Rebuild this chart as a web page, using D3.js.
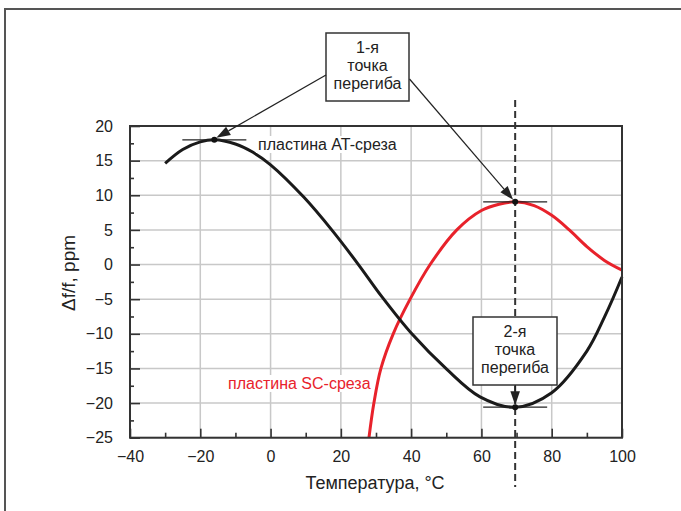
<!DOCTYPE html>
<html><head><meta charset="utf-8">
<script src="https://cdn.jsdelivr.net/npm/d3@7"></script>
<style>body{margin:0;background:#fff}svg{display:block}text{font-family:"Liberation Sans",Arial,sans-serif}</style>
</head><body>
<svg id="c" width="681" height="511"></svg>
<script>
// Data
const atCurve = [[-30,14.6],[-25,16.6],[-20,17.7],[-16,18.0],[-10,17.4],[-5,16.2],[0,14.4],[9.5,9.7],[17.4,5],[25,0],[31.6,-4.6],[40.2,-10],[50.1,-15.1],[59.6,-19.1],[69.6,-20.6],[80,-18.5],[90,-12.5],[95,-7.6],[100,-1.8]];
const scCurve = [[28,-25],[29.4,-20],[31.4,-15],[34.9,-10],[39.7,-5],[45.4,0],[53,5],[60,7.8],[65,8.7],[69.6,9.05],[75,8.5],[80,7.1],[85,5.0],[90,2.6],[95,0.6],[100,-0.8]];
const xTicks = [-40,-20,0,20,40,60,80,100];
const xMinor = [-30,-10,10,30,50,70,90];
const yTicks = [20,15,10,5,0,-5,-10,-15,-20,-25];
const yMinor = [17.5,12.5,7.5,2.5,-2.5,-7.5,-12.5,-17.5,-22.5];
const atPeak = [-16,18.0];
const scPeak = [69.6,9.05];
const atMin = [69.6,-20.6];
const labels = {x:"Температура, °C", y:"Δf/f, ppm", at:"пластина AT-среза", sc:"пластина SC-среза",
  box1:["1-я","точка","перегиба"], box2:["2-я","точка","перегиба"]};

const svg = d3.select("#c");
const x = d3.scaleLinear().domain([-40,100]).range([130,622]);
const y = d3.scaleLinear().domain([-25,20]).range([437.7,126]);
const fmt = d3.format("");
const axisCol = "#333";

svg.append("rect").attr("width",681).attr("height",511).attr("fill","#fff");
svg.append("path").attr("d","M5,511V9H681").attr("fill","none").attr("stroke","#555").attr("stroke-width",2);

// grid
const g = svg.append("g");
g.selectAll(".vg").data(xTicks).join("line").attr("x1",d=>x(d)).attr("x2",d=>x(d)).attr("y1",y(-25)).attr("y2",y(20)).attr("stroke","#c8c8c8").attr("stroke-width",1.5);
g.selectAll(".hg").data(yTicks).join("line").attr("y1",d=>y(d)).attr("y2",d=>y(d)).attr("x1",x(-40)).attr("x2",x(100)).attr("stroke","#c8c8c8").attr("stroke-width",1.5);

// curves
const line = d3.line().x(d=>x(d[0])).y(d=>y(d[1])).curve(d3.curveCatmullRom.alpha(0.5));
svg.append("path").attr("d",line(scCurve)).attr("fill","none").attr("stroke","#e8222b").attr("stroke-width",3);
svg.append("path").attr("d",line(atCurve)).attr("fill","none").attr("stroke","#1a1a1a").attr("stroke-width",3);

// frame
svg.append("rect").attr("x",x(-40)).attr("y",y(20)).attr("width",x(100)-x(-40)).attr("height",y(-25)-y(20)).attr("fill","none").attr("stroke",axisCol).attr("stroke-width",2);

// axes (ticks inward)
const xAxis = d3.axisBottom(x).tickValues(xTicks).tickSize(-9).tickPadding(13).tickFormat(fmt);
svg.append("g").attr("transform",`translate(0,${y(-25)})`).call(xAxis);
const xAxisMinor = d3.axisBottom(x).tickValues(xMinor).tickSize(-5).tickFormat("");
svg.append("g").attr("transform",`translate(0,${y(-25)})`).call(xAxisMinor);
const yAxis = d3.axisLeft(y).tickValues(yTicks).tickSize(-10).tickPadding(17).tickFormat(fmt);
svg.append("g").attr("transform",`translate(${x(-40)},0)`).call(yAxis);
const yAxisMinor = d3.axisLeft(y).tickValues(yMinor).tickSize(-4).tickFormat("");
svg.append("g").attr("transform",`translate(${x(-40)},0)`).call(yAxisMinor);
svg.selectAll(".domain").remove();
svg.selectAll(".tick line").attr("stroke",axisCol).attr("stroke-width",1.6);
svg.selectAll(".tick text").attr("font-size",16).attr("fill","#222").attr("font-family","Liberation Sans, Arial, sans-serif");

// axis titles
svg.append("text").attr("x",375).attr("y",489).attr("text-anchor","middle").attr("font-size",18).attr("fill","#222").text(labels.x);
svg.append("text").attr("transform","translate(75,273) rotate(-90)").attr("text-anchor","middle").attr("font-size",19).attr("fill","#222").text(labels.y);

// dashed vertical line
svg.append("line").attr("x1",x(scPeak[0])).attr("x2",x(scPeak[0])).attr("y1",100).attr("y2",487).attr("stroke","#333").attr("stroke-width",2).attr("stroke-dasharray","7,4");

// curve labels with white background
function bgLabel(tx,ty,txt,col){
  const t = svg.append("text").attr("x",tx).attr("y",ty).attr("font-size",16).attr("fill",col).text(txt);
  const b = t.node().getBBox();
  svg.insert("rect", () => t.node()).attr("x",b.x-2).attr("y",b.y).attr("width",b.width+4).attr("height",b.height).attr("fill","#fff");
}
bgLabel(258,150,labels.at,"#222");
bgLabel(228,389,labels.sc,"#e8222b");

// boxes
function box(bx,by,bw,bh,lines,base){
  svg.append("rect").attr("x",bx).attr("y",by).attr("width",bw).attr("height",bh).attr("fill","#fff").attr("stroke","#333").attr("stroke-width",1.5);
  lines.forEach((l,i)=>svg.append("text").attr("x",bx+bw/2).attr("y",base+i*18).attr("text-anchor","middle").attr("font-size",16).attr("fill","#222").text(l));
}
box(326,33,83,68,labels.box1,53);
box(473,317,84,68,labels.box2,337);

// tangents
function tangent(p,half){
  svg.append("line").attr("x1",x(p[0])-half).attr("x2",x(p[0])+half).attr("y1",y(p[1])).attr("y2",y(p[1])).attr("stroke","#222").attr("stroke-width",1.3);
}
tangent(atPeak,32);tangent(scPeak,32);tangent(atMin,32);

// arrows
function arrow(x1,y1,x2,y2,w){
  const dx=x2-x1, dy=y2-y1, L=Math.hypot(dx,dy), ux=dx/L, uy=dy/L;
  const hl=14, hw=4.8;
  const bx=x2-ux*hl, by=y2-uy*hl;
  svg.append("line").attr("x1",x1).attr("y1",y1).attr("x2",bx).attr("y2",by).attr("stroke","#222").attr("stroke-width",w);
  svg.append("path").attr("d",`M${x2},${y2}L${bx-uy*hw},${by+ux*hw}L${bx+uy*hw},${by-ux*hw}Z`).attr("fill","#222");
}
arrow(326,75,x(atPeak[0])+2,y(atPeak[1])-2,1.2);
arrow(409.5,79,x(scPeak[0])-2,y(scPeak[1])-2,1.2);
arrow(x(atMin[0]),385,x(atMin[0]),y(atMin[1])-2,1.5);

// dots
svg.selectAll(".dot").data([atPeak,scPeak,atMin]).join("circle").attr("cx",d=>x(d[0])).attr("cy",d=>y(d[1])).attr("r",3).attr("fill","#111");
</script>
</body></html>
